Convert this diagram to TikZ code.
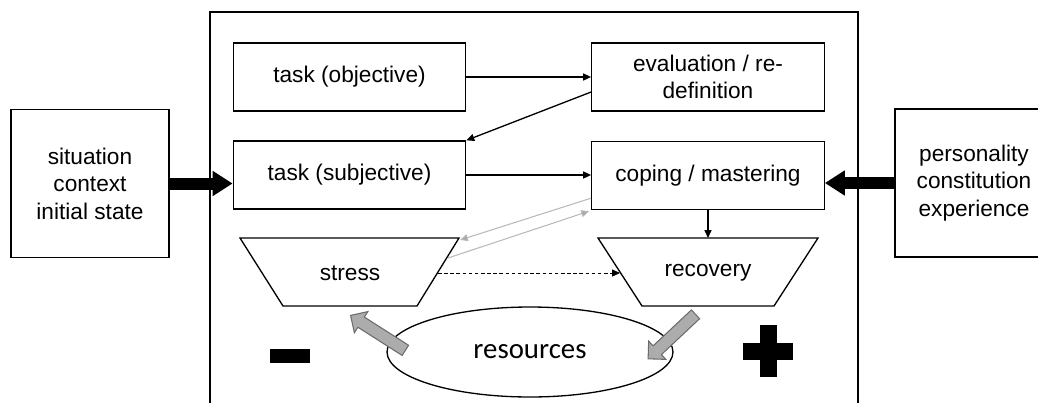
\documentclass[tikz,border=0pt]{standalone}
\usepackage{fontspec}
\setmainfont{Liberation Sans}
\newfontfamily\resfont{Carlito}
\usetikzlibrary{calc,shapes.geometric,shapes.arrows,arrows.meta}

\tikzset{
  box/.style={draw,line width=0.75pt,minimum width=4.65cm,minimum height=1.36cm,align=center},
  sidebox/.style={draw,line width=0.75pt,minimum width=3.16cm,minimum height=2.96cm,align=center},
  trap/.style={draw,line width=0.75pt,line join=miter},
  thin/.style={line width=0.75pt,-{Triangle[length=4.5pt,width=4pt]}},
  faint/.style={draw=gray!55,line width=0.6pt,-{Triangle[length=4.5pt,width=4pt,fill=gray!70]}},
  bigarrow/.style={line width=0.24cm,-{Triangle[length=0.4cm,width=0.48cm]}},
  grayarrow/.style={single arrow,draw=gray!85!black,fill=gray!65,line width=0.6pt,inner xsep=0pt,
    inner ysep=0.11cm,single arrow head extend=0.13cm,minimum height=1.3cm}
}

\begin{document}
\begin{tikzpicture}[x=0.02cm,y=-0.02cm,font=\fontsize{12.9}{15.6}\selectfont]
  \useasboundingbox (0,0) rectangle (1038,403);
  %FRAME
  \draw[line width=0.75pt] (210,403) -- (210,12) -- (858,12) -- (858,403);

  %BOXES
  \node[box] (taskobj) at (349.5,77) {task (objective)};
  \node[box] (tasksubj) at (349.5,175) {task (subjective)};
  \node[box] (evalbox) at (708,77) {evaluation / re-\\definition};
  \node[box] (coping) at (708,175.5) {coping / mastering};
  \node[sidebox] (sit) at (90,183.5) {situation\\context\\initial state};
  \node[sidebox] (pers) at (974,183) {personality\\constitution\\experience};

  %TRAPEZOIDS
  \draw[trap] (240,238) coordinate (stressTL) -- (459,238) coordinate (stressTR)
    -- (417,306) -- (283,306) -- cycle;
  \coordinate (stressR) at (438,273);
  \node (stress) at (350,273) {stress};
  \draw[trap] (598,238) -- (818,238) -- (774,306) -- (642,306) -- cycle;
  \coordinate (recoveryL) at (620,273);
  \coordinate (recoveryT) at (708,238);
  \node (recovery) at (708,273) {recovery};

  \node[draw,line width=0.75pt,ellipse,minimum width=5.72cm,minimum height=1.8cm,
    font=\resfont\fontsize{16.4}{18}\selectfont] (res) at (530,352) {resources};

  %ARROWS
  \draw[thin] (taskobj.east) -- (evalbox.west);
  \draw[thin] ($(evalbox.west)+(0,15)$) -- (tasksubj.north east);
  \draw[thin] (tasksubj.east) -- (tasksubj.east -| coping.west);
  \draw[thin] (coping.south) -- (recoveryT);
  \draw[thin,line width=0.45pt,dash pattern=on 2pt off 1.5pt] (stressR) -- (recoveryL);
  \draw[faint] ($(coping.south west)+(0,-12)$) -- ($(stressTR)+(1,2)$);
  \draw[faint] ($(stressTR)+(-11,20)$) -- ($(coping.south west)+(-2,1)$);

  \draw[bigarrow] (sit.east) -- (sit.east -| tasksubj.west);
  \draw[bigarrow] (pers.west) -- (pers.west -| coping.east);

  \node[grayarrow,rotate=147.5] (toStress) at (380.5,334.5) {};
  \node[grayarrow,rotate=223.2] (toRes) at (674,334.5) {};

  %SIGNS
  \fill (270,349) rectangle (310,363);
  \fill (760,325) rectangle (777,377);
  \fill (743,343) rectangle (793,360);
\end{tikzpicture}
\end{document}
